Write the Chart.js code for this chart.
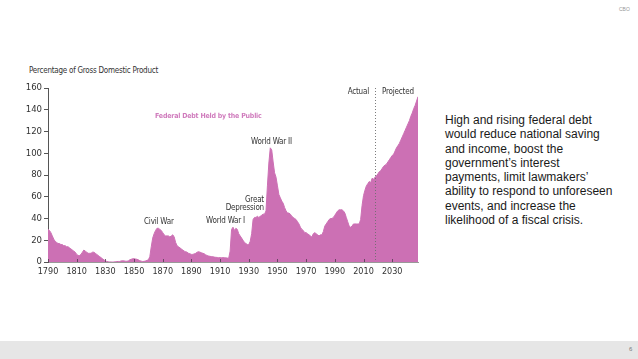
<!DOCTYPE html>
<html>
<head>
<meta charset="utf-8">
<script src="https://cdn.jsdelivr.net/npm/chart.js@4.4.1/dist/chart.umd.min.js"></script>
<style>
  html, body { margin: 0; padding: 0; background: #fff; }
  body { width: 638px; height: 359px; position: relative; overflow: hidden; font-family: "Liberation Sans", Arial, sans-serif; }
  .narrow { font-family: "Liberation Sans Narrow", "DejaVu Sans Condensed", "Liberation Sans", sans-serif; }
  #chart { position: absolute; left: 0; top: 78px; }
  .lbl { position: absolute; font-size: 8px; letter-spacing: -0.2px; color: #333; white-space: nowrap; line-height: 10px; }
  #ytitle { left: 29px; top: 66px; font-size: 8px; letter-spacing: -0.25px; }
  #series { left: 155px; top: 111px; font-size: 7px; letter-spacing: -0.2px; font-weight: bold; color: #d07cbd; }
  #blurb { position: absolute; left: 445px; top: 113px; font-size: 12px; line-height: 14.3px; color: #1a1a1a; }
  #cbo { position: absolute; left: 619px; top: 6px; font-size: 5px; color: #999; }
  #foot { position: absolute; left: 0; top: 341px; width: 638px; height: 18px; background: #e6e6e6; }
  #page { position: absolute; left: 629px; top: 346px; font-size: 6px; color: #777; }
</style>
</head>
<body>
<canvas id="chart" width="440" height="204"></canvas>

<div id="ytitle" class="lbl narrow">Percentage of Gross Domestic Product</div>
<div id="series" class="lbl narrow">Federal Debt Held by the Public</div>
<div class="lbl narrow" style="left:144px; top:217px;">Civil War</div>
<div class="lbl narrow" style="left:206px; top:216px;">World War I</div>
<div class="lbl narrow" style="left:240px; top:195px; width:24px; text-align:right;">Great</div>
<div class="lbl narrow" style="left:220px; top:203px; width:44px; text-align:right;">Depression</div>
<div class="lbl narrow" style="left:251px; top:137px;">World War II</div>
<div class="lbl narrow" style="left:330px; top:87px; width:39px; text-align:right;">Actual</div>
<div class="lbl narrow" style="left:382px; top:87px;">Projected</div>

<div id="blurb">High and rising federal debt<br>would reduce national saving<br>and income, boost the<br>government’s interest<br>payments, limit lawmakers’<br>ability to respond to unforeseen<br>events, and increase the<br>likelihood of a fiscal crisis.</div>

<div id="cbo">CBO</div>
<div id="foot"></div>
<div id="page">6</div>

<script>
/* ---------- Data ---------- */
const firstYear = 1790;
const lastActualYear = 2018;

// debt held by the public, % of GDP, 1790-2018 (one value per year)
const actualPct = [
  30, 29, 27, 24, 21, 19, 18, 17, 17, 16,          // 1790s
  16, 15, 15, 14, 14, 13, 12, 11, 10, 9,           // 1800s
  7, 6, 6, 7, 9, 11, 10, 9, 8, 8,                  // 1810s
  8, 9, 9, 8, 7, 6, 5, 4, 3, 2,                    // 1820s
  1, 0.5, 0.2, 0.1, 0, 0, 0, 0.3, 0.4, 0.5,        // 1830s
  0.5, 1, 1.2, 1, 0.8, 0.7, 1, 2, 2.5, 3,          // 1840s
  3, 2.8, 2.5, 2, 1.2, 0.8, 0.5, 0.6, 1, 1.5,      // 1850s
  2, 5, 14, 22, 26, 29, 31, 31, 30, 29,            // 1860s
  27, 25, 24, 24, 24, 23, 24, 25, 23, 18,          // 1870s
  15, 14, 13, 12, 11, 10, 9.5, 9, 8, 7.5,          // 1880s
  7, 7, 7.5, 8, 9, 9.5, 9, 8.5, 8, 7.5,            // 1890s
  6.5, 6, 5.5, 5.2, 5, 4.8, 4.5, 4.3, 4.2, 4,      // 1900s
  4, 4, 4, 4, 3.8, 3.6, 3.5, 10, 30, 32,           // 1910s
  29, 31, 30, 26, 24, 22, 20, 18, 17, 16,          // 1920s
  16, 19, 26, 39, 41, 41, 42, 41, 42, 43,          // 1930s
  44, 44, 47, 70, 91, 105, 103, 92, 82, 78,        // 1940s
  70, 62, 59, 56, 54, 50, 47, 45, 45, 44,          // 1950s
  42, 41, 40, 39, 37, 35, 32, 30, 29, 27,          // 1960s
  27, 26, 25, 24, 23, 26, 27, 26, 25, 24,          // 1970s
  25, 25, 28, 33, 35, 37, 39, 40, 40, 41,          // 1980s
  43, 45, 47, 48, 48, 48, 47, 45, 41, 37,          // 1990s
  33, 32, 33, 35, 35, 35, 35, 35, 39, 52,          // 2000s
  61, 66, 70, 72, 74, 73, 77, 76, 78               // 2010-2018
];

// projection, 2019-2048
const projectedPct = [
  79, 81, 83, 84, 86, 88, 89, 90, 92, 94,
  96, 98, 99, 102, 105, 107, 109, 112, 115, 118,
  121, 124, 127, 130, 134, 137, 141, 144, 148, 152
];

const xTickYears = [1790, 1810, 1830, 1850, 1870, 1890, 1910, 1930, 1950, 1970, 1990, 2010, 2030];
const yTicks = [0, 20, 40, 60, 80, 100, 120, 140, 160];

/* ---------- Build points ---------- */
const allPct = actualPct.concat(projectedPct);
const points = allPct.map((v, i) => ({ x: firstYear + i, y: v }));
const lastYear = firstYear + allPct.length - 1;

const FILL = "#cc70b4";
const AXIS = "#555";
const narrowFont = "'Liberation Sans Narrow', 'DejaVu Sans Condensed', 'Liberation Sans', sans-serif";

/* ---------- Extras: inner x ticks + actual/projected divider ---------- */
const extras = {
  id: "extras",
  afterDatasetsDraw(chart) {
    const { ctx, chartArea, scales } = chart;
    ctx.save();
    // inward ticks on the x axis
    ctx.strokeStyle = "rgba(80,60,80,0.8)";
    ctx.lineWidth = 1;
    xTickYears.forEach(yr => {
      const px = Math.round(scales.x.getPixelForValue(yr)) + 0.5;
      ctx.beginPath();
      ctx.moveTo(px, chartArea.bottom);
      ctx.lineTo(px, chartArea.bottom - 3);
      ctx.stroke();
    });
    // dotted divider
    const dx = Math.round(scales.x.getPixelForValue(lastActualYear)) + 0.5;
    ctx.strokeStyle = "rgba(110,110,110,0.9)";
    ctx.setLineDash([1, 2]);
    ctx.beginPath();
    ctx.moveTo(dx, chartArea.top);
    ctx.lineTo(dx, chartArea.bottom);
    ctx.stroke();
    ctx.restore();
  }
};

new Chart(document.getElementById("chart").getContext("2d"), {
  type: "line",
  data: {
    datasets: [{
      label: "Federal Debt Held by the Public",
      data: points,
      backgroundColor: FILL,
      borderColor: FILL,
      borderWidth: 1,
      pointRadius: 0,
      tension: 0,
      fill: "origin"
    }]
  },
  options: {
    responsive: false,
    animation: false,
    devicePixelRatio: 1,
    layout: { padding: { top: 10, right: 22, left: 0, bottom: 0 } },
    plugins: { legend: { display: false }, tooltip: { enabled: false } },
    scales: {
      x: {
        type: "linear",
        min: firstYear,
        max: lastYear,
        afterBuildTicks: s => { s.ticks = xTickYears.map(v => ({ value: v })); },
        afterFit: s => { s.height = 20; },
        grid: { display: false, drawTicks: false },
        border: { display: true, color: "#999", width: 1 },
        ticks: {
          padding: 4,
          color: "#333",
          font: { family: narrowFont, size: 9 },
          maxRotation: 0,
          autoSkip: false,
          callback: v => String(v)
        }
      },
      y: {
        min: 0,
        max: 160,
        afterBuildTicks: s => { s.ticks = yTicks.map(v => ({ value: v })); },
        afterFit: s => { s.width = 48; },
        grid: { display: true, drawOnChartArea: false, drawTicks: true, tickLength: 4, color: AXIS },
        border: { display: true, color: AXIS, width: 1 },
        ticks: {
          padding: 2,
          color: "#333",
          font: { family: narrowFont, size: 9.5 }
        }
      }
    }
  },
  plugins: [extras]
});
</script>
</body>
</html>
